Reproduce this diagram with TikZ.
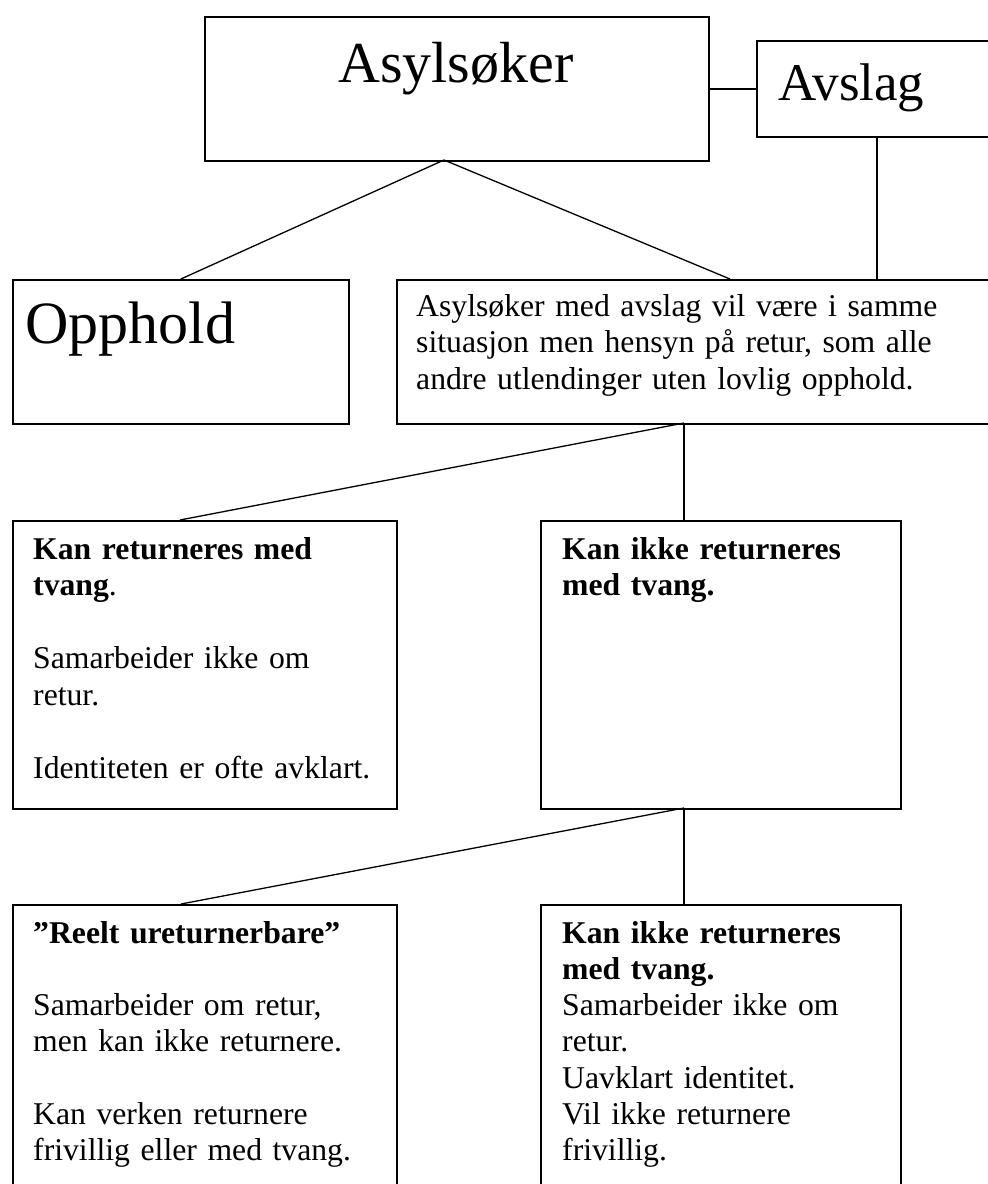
\documentclass[tikz,border=0pt]{standalone}
\usepackage{fontspec}
\setmainfont{Liberation Serif}
\begin{document}
\begin{tikzpicture}[x=1pt,y=-1pt,
  box/.style={draw, line width=1.8pt, inner sep=0pt, anchor=north west},
  conn/.style={line width=1.3pt},
  txt/.style={anchor=base west, inner sep=0pt, align=left, font=\fontsize{31.7}{36.5}\selectfont}]
\useasboundingbox (0,0) rectangle (988,1184);
\clip (0,0) rectangle (988,1184);
% boxes
\node[box, minimum width=504pt, minimum height=144pt] (asyl) at (204,16) {};
\node[box, minimum width=260pt, minimum height=96pt] (avsl) at (756,40) {};
\node[box, minimum width=336pt, minimum height=144pt] (opph) at (12,279) {};
\node[box, minimum width=620pt, minimum height=144pt] (midb) at (396,279) {};
\node[box, minimum width=384pt, minimum height=288pt] (kan) at (12,520) {};
\node[box, minimum width=360pt, minimum height=288pt] (kanikke) at (540,520) {};
\node[box, minimum width=384pt, minimum height=330pt] (reelt) at (12,904) {};
\node[box, minimum width=360pt, minimum height=330pt] (kanikkeb) at (540,904) {};
% texts
\node[anchor=base, inner sep=0pt, font=\fontsize{58}{60}\selectfont] (tasyl) at (456,82) {Asylsøker};
\node[anchor=base west, inner sep=0pt, font=\fontsize{53}{55}\selectfont] (tavsl) at (778,100) {Avslag};
\node[anchor=base west, inner sep=0pt, font=\fontsize{60}{62}\selectfont] (topph) at (25,343) {Opphold};
\node[txt, text width=565pt] (tmid) at (416,316) {Asylsøker med avslag vil være i samme\\situasjon men hensyn på retur, som alle\\andre utlendinger uten lovlig opphold.};
\node[txt, text width=350pt] (tkan) at (33,559) {\textbf{Kan returneres med}\\\textbf{tvang}.\\[36.5pt]Samarbeider ikke om\\retur.\\[36.5pt]Identiteten er ofte avklart.};
\node[txt, text width=330pt] (tkanikke) at (562,559) {\textbf{Kan ikke returneres}\\\textbf{med tvang.}};
\node[txt, text width=350pt, font=\fontsize{31.7}{36.3}\selectfont] (treelt) at (33,943) {\textbf{”Reelt ureturnerbare”}\\[36.3pt]Samarbeider om retur,\\men kan ikke returnere.\\[36.3pt]Kan verken returnere\\frivillig eller med tvang.};
\node[txt, text width=330pt, font=\fontsize{31.7}{36.3}\selectfont] (tkanikkeb) at (562,943) {\textbf{Kan ikke returneres}\\\textbf{med tvang.}\\Samarbeider ikke om\\retur.\\Uavklart identitet.\\Vil ikke returnere\\frivillig.};
% connector points
\coordinate (apex) at (444,160);
\coordinate (midtop) at (730,279);
\coordinate (avbot) at (877,136);
\coordinate (j1) at (684,423);
\coordinate (kantop) at (180,520);
\coordinate (j2) at (684,808);
\coordinate (reelttop) at (181,904);
% connectors
\draw[conn] (asyl.east) -- (avsl.west);
\draw[conn] (avbot) -- (avbot |- midb.north);
\draw[conn] (apex) -- (opph.north);
\draw[conn] (apex) -- (midtop);
\draw[conn] (j1) -- (kantop);
\draw[conn] (j1) -- (j1 |- kanikke.north);
\draw[conn] (j2) -- (reelttop);
\draw[conn] (j2) -- (j2 |- kanikkeb.north);
\end{tikzpicture}
\end{document}
